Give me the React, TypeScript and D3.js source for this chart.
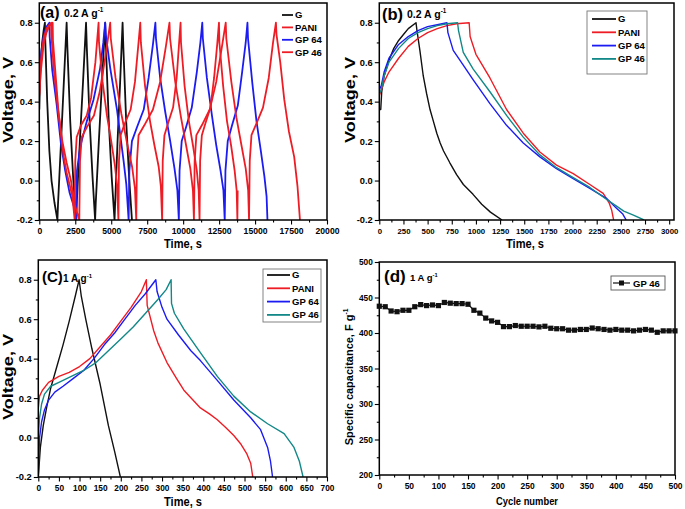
import * as d3 from 'd3';
import { useEffect, useRef } from 'react';

type Pt = [number, number];

const FONT = '"Liberation Sans", Arial, Helvetica, sans-serif';
const RED = '#ee1d25';
const BLUE = '#1c1cf2';
const TEAL = '#138888';
const BLACK = '#111111';

const LEGEND_NAMES = ['G', 'PANI', 'GP 64', 'GP 46'];

// tick labels
const V_TICKS = [-0.2, 0, 0.2, 0.4, 0.6, 0.8];
const A_X_TICKS = [0, 2500, 5000, 7500, 10000, 12500, 15000, 17500, 20000];
const B_X_TICKS = [0, 250, 500, 750, 1000, 1250, 1500, 1750, 2000, 2250, 2500, 2750, 3000];
const C_X_TICKS = [0, 50, 100, 150, 200, 250, 300, 350, 400, 450, 500, 550, 600, 650, 700];
const D_X_TICKS = [0, 50, 100, 150, 200, 250, 300, 350, 400, 450, 500];
const D_Y_TICKS = [200, 250, 300, 350, 400, 450, 500];

// (a) 0.2 A/g, repeated cycles  [time s, voltage V]
const A_G: Pt[] = [
  [0, 0.36], [30, 0.45], [100, 0.6], [200, 0.7], [300, 0.76], [390, 0.8],
  [420, 0.7], [550, 0.4], [700, 0.15], [850, 0.0], [1050, -0.11], [1260, -0.2],
  [1300, -0.12], [1500, 0.18], [1700, 0.49], [1900, 0.8],
  [1950, 0.68], [2150, 0.3], [2350, 0.02], [2560, -0.2],
  [2600, -0.12], [2820, 0.2], [3040, 0.5], [3250, 0.8],
  [3300, 0.68], [3500, 0.3], [3700, 0.02], [3880, -0.2],
  [3920, -0.12], [4140, 0.2], [4360, 0.5], [4580, 0.8],
  [4630, 0.68], [4830, 0.3], [5030, 0.02], [5230, -0.2],
  [5270, -0.12], [5440, 0.2], [5620, 0.5], [5790, 0.8],
  [5840, 0.68], [6040, 0.3], [6240, 0.02], [6440, -0.2],
];
const A_PANI: Pt[] = [
  [0, 0.43], [100, 0.55], [300, 0.69], [500, 0.75], [700, 0.785], [930, 0.8],
  [950, 0.71], [1150, 0.52], [1320, 0.36], [1500, 0.24], [1700, 0.12], [1900, 0.04], [2100, -0.02], [2300, -0.08], [2460, -0.2],
  [2500, 0.1], [2600, 0.22], [2900, 0.28], [3300, 0.33], [3600, 0.42], [3900, 0.6], [4120, 0.8],
  [4150, 0.7], [4400, 0.5], [4700, 0.33], [5000, 0.2], [5250, 0.08], [5400, -0.02], [5500, -0.2],
  [5540, 0.1], [5650, 0.23], [5950, 0.29], [6350, 0.36], [6650, 0.5], [6900, 0.7], [7020, 0.8],
  [7060, 0.7], [7350, 0.48], [7700, 0.3], [8000, 0.18], [8300, 0.07], [8450, -0.03], [8540, -0.2],
  [8580, 0.1], [8700, 0.23], [8950, 0.29], [9300, 0.37], [9550, 0.52], [9720, 0.7], [9820, 0.8],
  [9850, 0.7], [10100, 0.48], [10400, 0.3], [10700, 0.17], [10950, 0.05], [11080, -0.05], [11140, -0.2],
  [11180, 0.1], [11300, 0.23], [11550, 0.29], [11900, 0.37], [12150, 0.52], [12380, 0.7], [12490, 0.8],
  [12520, 0.7], [12780, 0.48], [13050, 0.3], [13350, 0.17], [13580, 0.05], [13720, -0.05], [13770, -0.2], [13790, -0.05],
];
const A_GP64: Pt[] = [
  [0, 0.47], [50, 0.55], [150, 0.66], [300, 0.73], [500, 0.78], [700, 0.8],
  [720, 0.73], [900, 0.56], [1200, 0.39], [1500, 0.19], [1800, 0.05], [2100, -0.06], [2400, -0.13], [2570, -0.2],
  [2620, 0.05], [2840, 0.17], [3300, 0.3], [3770, 0.41], [4230, 0.57], [4450, 0.7], [4580, 0.8],
  [4620, 0.74], [4930, 0.57], [5400, 0.36], [5860, 0.1], [6050, -0.02], [6210, -0.2],
  [6260, 0.05], [6440, 0.2], [6790, 0.27], [7260, 0.36], [7600, 0.52], [7900, 0.69], [8070, 0.8],
  [8110, 0.72], [8400, 0.52], [8750, 0.35], [9100, 0.2], [9400, 0.06], [9600, -0.05], [9700, -0.2],
  [9750, 0.05], [9900, 0.2], [10200, 0.27], [10600, 0.37], [10950, 0.55], [11200, 0.7], [11330, 0.8],
  [11370, 0.72], [11650, 0.52], [12000, 0.33], [12300, 0.18], [12600, 0.05], [12800, -0.05], [12890, -0.2],
  [12940, 0.05], [13100, 0.2], [13400, 0.28], [13800, 0.38], [14100, 0.55], [14350, 0.7], [14470, 0.8],
  [14510, 0.72], [14800, 0.5], [15100, 0.3], [15400, 0.15], [15650, 0.02], [15800, -0.08], [15860, -0.2],
];
const A_GP46: Pt[] = [
  [0, 0.44], [100, 0.6], [300, 0.72], [500, 0.77], [820, 0.8],
  [840, 0.74], [1000, 0.57], [1300, 0.36], [1600, 0.2], [1900, 0.09], [2200, 0.0], [2450, -0.12], [2780, -0.2],
  [2830, 0.1], [2950, 0.22], [3300, 0.27], [3800, 0.33], [4200, 0.45], [4600, 0.63], [4930, 0.8],
  [4970, 0.72], [5300, 0.52], [5700, 0.34], [6100, 0.19], [6450, 0.07], [6650, -0.04], [6740, -0.2],
  [6790, 0.1], [6900, 0.23], [7300, 0.28], [7900, 0.36], [8400, 0.5], [8800, 0.68], [9050, 0.8],
  [9090, 0.72], [9450, 0.5], [9850, 0.32], [10200, 0.18], [10500, 0.06], [10680, -0.05], [10750, -0.2],
  [10800, 0.1], [10920, 0.23], [11300, 0.28], [11850, 0.36], [12300, 0.5], [12700, 0.68], [12960, 0.8],
  [13000, 0.72], [13350, 0.5], [13700, 0.32], [14050, 0.18], [14350, 0.06], [14520, -0.05], [14580, -0.2],
  [14630, 0.1], [14750, 0.23], [15100, 0.29], [15550, 0.37], [15950, 0.52], [16250, 0.7], [16450, 0.8],
  [16490, 0.74], [16750, 0.6], [17030, 0.41], [17350, 0.25], [17720, 0.12], [17950, -0.03], [18120, -0.2],
];

// (b) 0.2 A/g, first cycle
const B_G: Pt[] = [
  [0, 0.36], [15, 0.36], [25, 0.45], [50, 0.53], [100, 0.61], [150, 0.67], [200, 0.71], [250, 0.74], [300, 0.77], [380, 0.8],
  [390, 0.76], [420, 0.66], [455, 0.53], [490, 0.44], [525, 0.36], [560, 0.3], [595, 0.24], [630, 0.19], [665, 0.15],
  [730, 0.09], [800, 0.03], [870, -0.02], [970, -0.07], [1060, -0.12], [1150, -0.16], [1270, -0.2],
];
const B_PANI: Pt[] = [
  [0, 0.43], [50, 0.5], [100, 0.55], [200, 0.62], [300, 0.68], [400, 0.72], [500, 0.75], [600, 0.77], [700, 0.785], [800, 0.795], [930, 0.8],
  [940, 0.73], [960, 0.7], [1000, 0.64], [1145, 0.52], [1317, 0.36], [1490, 0.24], [1662, 0.145], [1834, 0.078],
  [2007, 0.035], [2179, -0.02], [2317, -0.065], [2380, -0.115], [2405, -0.15], [2425, -0.2],
];
const B_GP64: Pt[] = [
  [0, 0.46], [20, 0.48], [50, 0.55], [100, 0.62], [200, 0.69], [300, 0.73], [400, 0.76], [500, 0.78], [600, 0.79], [700, 0.8],
  [710, 0.75], [765, 0.66], [834, 0.61], [972, 0.51], [1145, 0.39], [1317, 0.28], [1490, 0.19], [1662, 0.12], [1834, 0.06],
  [2007, 0.01], [2179, -0.04], [2350, -0.09], [2455, -0.14], [2520, -0.17], [2555, -0.2],
];
const B_GP46: Pt[] = [
  [0, 0.44], [20, 0.46], [50, 0.53], [100, 0.6], [200, 0.67], [300, 0.72], [400, 0.75], [500, 0.77], [600, 0.785], [700, 0.795], [810, 0.8],
  [820, 0.76], [869, 0.65], [972, 0.565], [1145, 0.45], [1317, 0.33], [1490, 0.22], [1662, 0.13], [1834, 0.065],
  [2007, 0.015], [2179, -0.035], [2350, -0.095], [2455, -0.13], [2530, -0.155], [2630, -0.175], [2740, -0.2],
];

// (c) 1 A/g
const C_G: Pt[] = [
  [0, -0.2], [5, -0.05], [12, 0.06], [20, 0.15], [30, 0.25], [45, 0.36], [60, 0.47], [75, 0.59], [90, 0.72], [99, 0.8],
  [104, 0.72], [115, 0.6], [130, 0.45], [150, 0.27], [170, 0.06], [185, -0.07], [199, -0.2],
];
const C_PANI: Pt[] = [
  [0, 0.15], [3, 0.21], [10, 0.24], [25, 0.28], [50, 0.31], [75, 0.33], [100, 0.36], [125, 0.4], [150, 0.46], [175, 0.52],
  [200, 0.59], [225, 0.66], [250, 0.74], [262, 0.8],
  [264, 0.67], [280, 0.54], [290, 0.48], [312, 0.38], [335, 0.3], [353, 0.24], [375, 0.19], [393, 0.15], [415, 0.12],
  [434, 0.09], [455, 0.05], [474, 0.01], [490, -0.03], [505, -0.08], [515, -0.13], [520, -0.2],
];
const C_GP64: Pt[] = [
  [0, -0.2], [3, 0.0], [8, 0.08], [15, 0.14], [25, 0.19], [40, 0.23], [60, 0.26], [85, 0.3], [110, 0.34], [135, 0.4],
  [160, 0.47], [185, 0.53], [210, 0.6], [235, 0.67], [260, 0.73], [285, 0.8],
  [288, 0.74], [300, 0.66], [312, 0.6], [340, 0.52], [370, 0.44], [393, 0.39], [434, 0.29], [474, 0.19], [515, 0.1],
  [539, 0.04], [556, -0.05], [563, -0.12], [568, -0.2],
];
const C_GP46: Pt[] = [
  [0, 0.0], [3, 0.1], [8, 0.17], [15, 0.22], [30, 0.26], [50, 0.28], [80, 0.31], [110, 0.34], [140, 0.38], [170, 0.44],
  [200, 0.5], [230, 0.56], [260, 0.63], [290, 0.7], [310, 0.75], [322, 0.8],
  [323, 0.68], [330, 0.63], [353, 0.55], [393, 0.43], [434, 0.31], [474, 0.21], [515, 0.13], [556, 0.07], [596, 0.02],
  [620, -0.05], [633, -0.12], [642, -0.2],
];

// (d) cycling at 1 A/g, GP 46
const D_CYCLES = [
  0, 10, 20, 30, 40, 50, 60, 70, 80, 90, 100, 110, 120, 130, 140, 150, 160, 170, 180, 190, 200,
  210, 220, 230, 240, 250, 260, 270, 280, 290, 300, 310, 320, 330, 340, 350, 360, 370, 380, 390, 400,
  410, 420, 430, 440, 450, 460, 470, 480, 490, 500,
];
const D_CAPACITANCE = [
  437.7, 437, 431, 430, 432, 432, 437, 440, 438.6, 439.5, 438.6, 443, 442, 441.4, 441.4, 440.5, 432, 428, 421, 417, 415,
  409, 409, 410.5, 409.5, 409.5, 409.5, 408.6, 409.5, 406.7, 406, 406, 404, 404, 405, 405, 407, 406, 405, 404, 405,
  404, 404, 403, 404, 405, 404, 401, 403, 403, 403,
];

interface Series { data: Pt[]; color: string; width: number; }
interface Panel {
  id: string;
  left: number; right: number; top: number; bottom: number;
  xDomain: [number, number]; yDomain: [number, number];
  xTicks: number[]; yTicks: number[];
  xFmt: (v: number) => string; yFmt: (v: number) => string;
  xFont: number; yFont: number;
  series: Series[];
}

type Sel = d3.Selection<SVGSVGElement, unknown, null, undefined>;

function styleTicks(axis: d3.Selection<SVGGElement, unknown, null, undefined>, size: number) {
  axis.selectAll('.tick text')
    .attr('font-family', FONT)
    .attr('font-weight', 'bold')
    .attr('font-size', size)
    .attr('fill', '#000');
}

function drawPanel(svg: Sel, p: Panel) {
  const x = d3.scaleLinear().domain(p.xDomain).range([p.left, p.right]);
  const y = d3.scaleLinear().domain(p.yDomain).range([p.bottom, p.top]);
  const g = svg.append('g');

  g.append('clipPath').attr('id', `clip-${p.id}`)
    .append('rect')
    .attr('x', p.left).attr('y', p.top)
    .attr('width', p.right - p.left).attr('height', p.bottom - p.top);

  const plot = g.append('g').attr('clip-path', `url(#clip-${p.id})`);
  const line = d3.line<Pt>().x((d) => x(d[0])).y((d) => y(d[1]));
  for (const s of p.series) {
    plot.append('path')
      .datum(s.data)
      .attr('fill', 'none')
      .attr('stroke', s.color)
      .attr('stroke-width', s.width)
      .attr('stroke-linejoin', 'round')
      .attr('d', line);
  }

  const xMinor = d3.pairs(p.xTicks).map(([a, b]) => (a + b) / 2);
  const yMinor = d3.pairs(p.yTicks).map(([a, b]) => (a + b) / 2);

  g.append('g').attr('transform', `translate(0,${p.bottom})`)
    .call(d3.axisBottom(x).tickValues(xMinor).tickSize(2.5).tickSizeOuter(0).tickFormat(() => ''));
  const xAxis = g.append('g').attr('transform', `translate(0,${p.bottom})`)
    .call(d3.axisBottom(x).tickValues(p.xTicks).tickSize(4.5).tickPadding(3.5).tickSizeOuter(0)
      .tickFormat((d) => p.xFmt(+d)));
  g.append('g').attr('transform', `translate(${p.left},0)`)
    .call(d3.axisLeft(y).tickValues(yMinor).tickSize(2.5).tickSizeOuter(0).tickFormat(() => ''));
  const yAxis = g.append('g').attr('transform', `translate(${p.left},0)`)
    .call(d3.axisLeft(y).tickValues(p.yTicks).tickSize(4.5).tickPadding(2).tickSizeOuter(0)
      .tickFormat((d) => p.yFmt(+d)));

  g.selectAll('.domain').remove();
  g.selectAll('.tick line').attr('stroke', '#000').attr('stroke-width', 1.1);
  styleTicks(xAxis, p.xFont);
  styleTicks(yAxis, p.yFont);

  g.append('rect')
    .attr('x', p.left).attr('y', p.top)
    .attr('width', p.right - p.left).attr('height', p.bottom - p.top)
    .attr('fill', 'none')
    .attr('stroke', '#000')
    .attr('stroke-width', 1.5);

  return { x, y, g };
}

function label(
  svg: Sel, x: number, y: number, text: string, size: number,
  opts: { rotate?: boolean; sup?: string; length?: number; anchor?: string } = {},
) {
  const t = svg.append('text')
    .attr('font-family', FONT)
    .attr('font-weight', 'bold')
    .attr('font-size', size)
    .attr('fill', '#000')
    .attr('text-anchor', opts.anchor ?? 'start')
    .attr('transform', opts.rotate ? `translate(${x},${y}) rotate(-90)` : `translate(${x},${y})`);
  const main = t.append('tspan').text(text);
  if (opts.length) main.attr('textLength', opts.length).attr('lengthAdjust', 'spacingAndGlyphs');
  if (opts.sup) {
    t.append('tspan').attr('dy', -size * 0.45).attr('font-size', size * 0.6).text(opts.sup);
  }
  return t;
}

function legend(
  svg: Sel, names: string[], colors: string[], x: number, y: number, step: number,
  lineLen: number, size: number, box?: [number, number, number, number],
) {
  const g = svg.append('g');
  if (box) {
    g.append('rect').attr('x', box[0]).attr('y', box[1]).attr('width', box[2]).attr('height', box[3])
      .attr('fill', '#fff').attr('stroke', '#777').attr('stroke-width', 0.9);
  }
  names.forEach((n, i) => {
    const yy = y + i * step;
    g.append('line').attr('x1', x).attr('x2', x + lineLen).attr('y1', yy).attr('y2', yy)
      .attr('stroke', colors[i]).attr('stroke-width', 1.8);
    g.append('text').attr('x', x + lineLen + 2).attr('y', yy + size * 0.36)
      .attr('font-family', FONT).attr('font-weight', 'bold').attr('font-size', size).text(n);
  });
}

const fmt1 = (v: number) => v.toFixed(1);
const fmt0 = (v: number) => String(v);

export default function App() {
  const ref = useRef<SVGSVGElement>(null);

  useEffect(() => {
    if (!ref.current) return;
    const svg = d3.select(ref.current) as Sel;
    svg.selectAll('*').remove();

    // (a)
    drawPanel(svg, {
      id: 'a', left: 39.3, right: 327, top: 3, bottom: 220,
      xDomain: [0, 20000], yDomain: [-0.2, 0.9],
      xTicks: A_X_TICKS, yTicks: V_TICKS, xFmt: fmt0, yFmt: fmt1, xFont: 8.6, yFont: 9.3,
      series: [
        { data: A_G, color: BLACK, width: 1.8 },
        { data: A_GP64, color: BLUE, width: 1.8 },
        { data: A_GP46, color: RED, width: 1.8 },
        { data: A_PANI, color: RED, width: 1.8 },
      ],
    });
    legend(svg, LEGEND_NAMES, [BLACK, RED, BLUE, RED], 282, 15, 12.4, 11, 9.5);
    label(svg, 40, 18, '(a)', 16);
    label(svg, 64, 17, '0.2 A g', 10.5, { sup: '-1' });
    label(svg, 183, 248, 'Time, s', 12, { anchor: 'middle', length: 38 });
    label(svg, 13, 100, 'Voltage, V', 15.5, { anchor: 'middle', rotate: true, length: 86 });

    // (b)
    drawPanel(svg, {
      id: 'b', left: 379.3, right: 674, top: 3, bottom: 220,
      xDomain: [0, 3050], yDomain: [-0.2, 0.9],
      xTicks: B_X_TICKS, yTicks: V_TICKS, xFmt: fmt0, yFmt: fmt1, xFont: 7.8, yFont: 9.3,
      series: [
        { data: B_G, color: BLACK, width: 1.4 },
        { data: B_PANI, color: RED, width: 1.4 },
        { data: B_GP64, color: BLUE, width: 1.4 },
        { data: B_GP46, color: TEAL, width: 1.4 },
      ],
    });
    legend(svg, LEGEND_NAMES, [BLACK, RED, BLUE, TEAL], 592, 19, 13.3, 24, 9.5, [587, 11, 60, 63]);
    label(svg, 382, 20, '(b)', 16.5);
    label(svg, 407, 18, '0.2 A g', 10.5, { sup: '-1' });
    label(svg, 525, 248, 'Time, s', 12, { anchor: 'middle', length: 38 });
    label(svg, 355, 100, 'Voltage, V', 15.5, { anchor: 'middle', rotate: true, length: 86 });

    // (c)
    drawPanel(svg, {
      id: 'c', left: 38.3, right: 327, top: 260, bottom: 477,
      xDomain: [0, 700], yDomain: [-0.2, 0.9],
      xTicks: C_X_TICKS, yTicks: V_TICKS, xFmt: fmt0, yFmt: fmt1, xFont: 8.3, yFont: 9.3,
      series: [
        { data: C_G, color: BLACK, width: 1.4 },
        { data: C_PANI, color: RED, width: 1.4 },
        { data: C_GP64, color: BLUE, width: 1.4 },
        { data: C_GP46, color: TEAL, width: 1.4 },
      ],
    });
    legend(svg, LEGEND_NAMES, [BLACK, RED, BLUE, TEAL], 267, 275, 13.3, 23, 9.5, [263, 269, 58, 53]);
    label(svg, 42, 282, '(C)', 15);
    label(svg, 63, 282, '1 A g', 10, { sup: '-1' });
    label(svg, 183, 506, 'Time, s', 12, { anchor: 'middle', length: 38 });
    label(svg, 13, 377, 'Voltage, V', 15.5, { anchor: 'middle', rotate: true, length: 86 });

    // (d)
    const d = drawPanel(svg, {
      id: 'd', left: 379.3, right: 675, top: 262, bottom: 475,
      xDomain: [0, 500], yDomain: [200, 500],
      xTicks: D_X_TICKS, yTicks: D_Y_TICKS, xFmt: fmt0, yFmt: fmt0, xFont: 8.5, yFont: 8.3,
      series: [{ data: D_CYCLES.map((c, i) => [c, D_CAPACITANCE[i]] as Pt), color: BLACK, width: 1.2 }],
    });
    d.g.append('g')
      .selectAll('rect')
      .data(D_CYCLES.map((c, i) => [c, D_CAPACITANCE[i]] as Pt))
      .join('rect')
      .attr('x', (p) => d.x(p[0]) - 2.6)
      .attr('y', (p) => d.y(p[1]) - 2.6)
      .attr('width', 5.2)
      .attr('height', 5.2)
      .attr('fill', BLACK);
    const lg = svg.append('g');
    lg.append('rect').attr('x', 611).attr('y', 276).attr('width', 54).attr('height', 14)
      .attr('fill', '#fff').attr('stroke', '#555').attr('stroke-width', 0.9);
    lg.append('line').attr('x1', 613).attr('x2', 630).attr('y1', 283).attr('y2', 283)
      .attr('stroke', BLACK).attr('stroke-width', 1.2);
    lg.append('rect').attr('x', 619).attr('y', 280.5).attr('width', 5).attr('height', 5).attr('fill', BLACK);
    lg.append('text').attr('x', 633).attr('y', 286.5).attr('font-family', FONT).attr('font-weight', 'bold')
      .attr('font-size', 9.5).text('GP 46');
    label(svg, 384, 282, '(d)', 17);
    label(svg, 410, 281, '1 A g', 9.5, { sup: '-1' });
    label(svg, 527, 505, 'Cycle number', 11, { anchor: 'middle', length: 62 });
    label(svg, 353, 377, 'Specific capacitance, F g', 11, { anchor: 'middle', rotate: true, sup: '-1' });
  }, []);

  return (
    <svg
      ref={ref}
      width={685}
      height={509}
      style={{ position: 'absolute', left: 0, top: 0, background: '#fff' }}
    />
  );
}
